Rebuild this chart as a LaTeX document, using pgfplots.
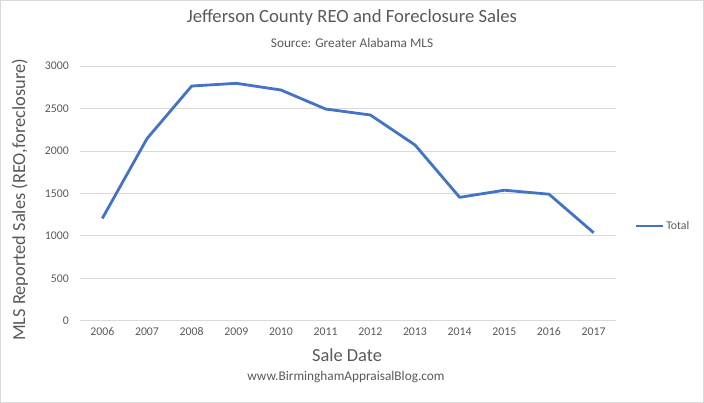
\documentclass[border=0pt]{standalone}
\usepackage{fontspec}
\setmainfont{Carlito}
\usepackage{pgfplots}
\pgfplotsset{compat=1.18}
\definecolor{exblue}{HTML}{4472C4}
\definecolor{txtgray}{HTML}{595959}
\definecolor{gridgray}{HTML}{D9D9D9}
\begin{document}
\begin{tikzpicture}
\useasboundingbox (-80bp,-82.3bp) rectangle (624bp,320.7bp);
\draw[gridgray, line width=1bp] (-79.5bp,-81.8bp) rectangle (623.5bp,320.2bp);
\begin{axis}[
  scale only axis, width=536bp, height=254.7bp,
  xmin=2005.5, xmax=2017.5, ymin=0, ymax=3000,
  xtick={2006,...,2017}, ytick={0,500,...,3000},
  /pgf/number format/assume math mode=true,
  /pgf/number format/1000 sep={},
  ymajorgrids, grid style={gridgray, line width=0.75bp},
  axis line style={draw=none},
  major tick length=0pt,
  ticklabel style={font=\fontsize{11.8bp}{13bp}\selectfont, text=txtgray},
  yticklabel style={inner sep=0pt, xshift=-11bp},
  xticklabel style={inner sep=0pt, yshift=-7bp},
  legend style={draw=none, fill=none, at={(rel axis cs:1.035,0.372)}, anchor=west, inner sep=0pt,
    font=\fontsize{11.8bp}{13bp}\selectfont, text=txtgray, nodes={inner sep=1.5bp}},
  legend image code/.code={\draw[#1] (0bp,0bp) -- (27bp,0bp);},
  clip=false,
]
\addplot[exblue, line width=2.8bp, line join=round] coordinates {
 (2006,1205) (2007,2145) (2008,2764) (2009,2796) (2010,2717) (2011,2493)
 (2012,2423) (2013,2070) (2014,1453) (2015,1537) (2016,1490) (2017,1036)
};
\addlegendentry{Total}
\end{axis}
\node[text=txtgray, font=\fontsize{18.7bp}{21bp}\selectfont] at (272bp,302.7bp) {Jefferson County REO and Foreclosure Sales};
\node[text=txtgray, font=\fontsize{13.3bp}{15bp}\selectfont] at (272bp,277.7bp) {Source: Greater Alabama MLS};
\node[text=txtgray, font=\fontsize{18.4bp}{21bp}\selectfont, rotate=90] at (-60bp,120.7bp) {MLS Reported Sales (REO,foreclosure)};
\node[text=txtgray, font=\fontsize{18.4bp}{21bp}\selectfont] at (267bp,-34.3bp) {Sale Date};
\node[text=txtgray, font=\fontsize{13.3bp}{15bp}\selectfont] at (266bp,-56.3bp) {www.BirminghamAppraisalBlog.com};
\end{tikzpicture}
\end{document}
